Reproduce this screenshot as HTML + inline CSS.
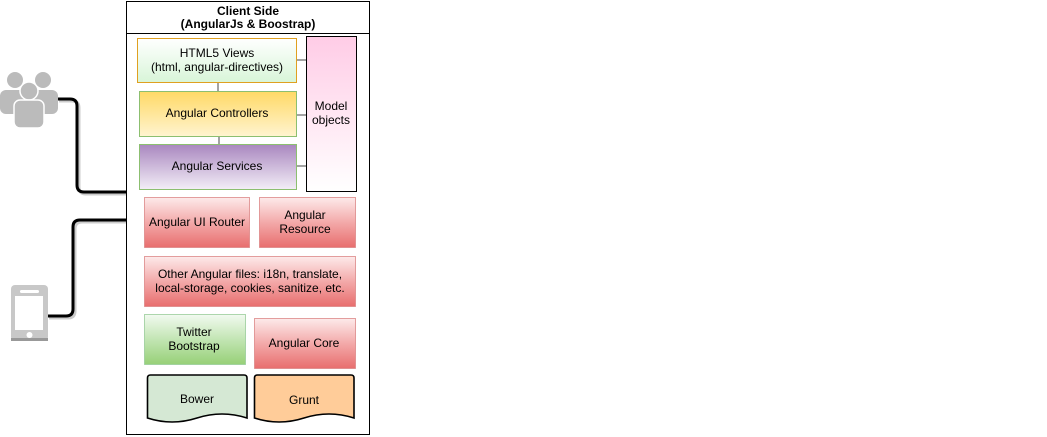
<!DOCTYPE html>
<html><head><meta charset="utf-8"><style>
body{margin:0;background:#fff;width:1047px;height:437px;overflow:hidden}
svg{display:block}
text{font-family:"Liberation Sans",sans-serif;font-size:12px;fill:#000;text-anchor:middle}
</style></head><body>
<svg width="1047" height="437" viewBox="0 0 1047 437">
<defs>
<linearGradient id="gv" x1="0" y1="0" x2="0" y2="1"><stop offset="0" stop-color="#fff"/><stop offset="1" stop-color="#d8f5d8"/></linearGradient>
<linearGradient id="gc" x1="0" y1="0" x2="0" y2="1"><stop offset="0" stop-color="#ffd966"/><stop offset="1" stop-color="#fff4d0"/></linearGradient>
<linearGradient id="gs" x1="0" y1="0" x2="0" y2="1"><stop offset="0" stop-color="#a987bf"/><stop offset="1" stop-color="#f3eef7"/></linearGradient>
<linearGradient id="gm" x1="0" y1="0" x2="0" y2="1"><stop offset="0" stop-color="#ffcce6"/><stop offset="1" stop-color="#fff"/></linearGradient>
<linearGradient id="gr" x1="0" y1="0" x2="0" y2="1"><stop offset="0" stop-color="#fdeaea"/><stop offset="0.5" stop-color="#f3a9a9"/><stop offset="1" stop-color="#e86e6e"/></linearGradient>
<linearGradient id="gg" x1="0" y1="0" x2="0" y2="1"><stop offset="0" stop-color="#f2faf0"/><stop offset="0.5" stop-color="#c2e5b3"/><stop offset="1" stop-color="#97d077"/></linearGradient>
</defs>
<path d="M59,101 H72 Q79,101 79,108 V187 Q79,194 86,194 H128" fill="none" stroke="#ccc" stroke-width="3"/>
<path d="M57,99 H70 Q77,99 77,106 V185 Q77,192 84,192 H127" fill="none" stroke="#000" stroke-width="3"/>
<path d="M49,318 H68 Q75,318 75,311 V229 Q75,222 82,222 H128" fill="none" stroke="#ccc" stroke-width="3"/>
<path d="M47,316 H66 Q73,316 73,309 V227 Q73,220 80,220 H127" fill="none" stroke="#000" stroke-width="3"/>
<g fill="#bbb">
<circle cx="15" cy="80" r="8"/><circle cx="43" cy="80" r="8"/>
<rect x="0" y="90" width="28" height="24" rx="6"/><rect x="30" y="90" width="28" height="24" rx="6"/>
<circle cx="29" cy="91" r="9" stroke="#fff" stroke-width="1.5"/>
<rect x="14" y="100" width="30" height="28" rx="6" stroke="#fff" stroke-width="1.5"/>
</g>
<rect x="11" y="285" width="37" height="56" rx="4" fill="#c8c8c8"/>
<rect x="11" y="338" width="37" height="3" fill="#999"/>
<rect x="15" y="296" width="28" height="34" fill="#fff"/>
<rect x="20" y="290" width="19" height="3" rx="1.5" fill="#fff"/>
<circle cx="29.5" cy="335" r="3" fill="#fff"/>
<rect x="126.5" y="1.5" width="243" height="433" fill="#fff" stroke="#000"/>
<line x1="126" y1="33.5" x2="370" y2="33.5" stroke="#000"/>
<text x="248" y="15" font-weight="bold">Client Side</text>
<text x="248" y="28" font-weight="bold">(AngularJs &amp; Boostrap)</text>
<g stroke="#666" stroke-width="1.2">
<line x1="218" y1="82" x2="218" y2="91"/><line x1="219" y1="134" x2="219" y2="146"/>
<line x1="296" y1="60" x2="307" y2="60"/><line x1="296" y1="115" x2="307" y2="115"/><line x1="296" y1="166" x2="307" y2="166"/>
</g>
<rect x="137.5" y="38.5" width="159" height="44" fill="url(#gv)" stroke="#e0a020"/>
<text x="217" y="57">HTML5 Views</text><text x="217" y="71">(html, angular-directives)</text>
<rect x="139.5" y="91.5" width="157" height="45" fill="url(#gc)" stroke="#8cbf70"/>
<text x="217" y="117">Angular Controllers</text>
<rect x="139.5" y="144.5" width="157" height="45" fill="url(#gs)" stroke="#8cbf70"/>
<text x="217" y="170">Angular Services</text>
<rect x="306.5" y="36.5" width="50" height="155" fill="url(#gm)" stroke="#000"/>
<text x="331" y="110">Model</text><text x="331" y="124">objects</text>
<g stroke="#d88" stroke-width="0.8">
<rect x="144.5" y="197.5" width="105" height="50" fill="url(#gr)"/>
<rect x="259.5" y="197.5" width="96" height="50" fill="url(#gr)"/>
<rect x="144.5" y="256.5" width="211" height="50" fill="url(#gr)"/>
<rect x="254.5" y="318.5" width="101" height="50" fill="url(#gr)"/>
</g>
<rect x="144.5" y="314.5" width="101" height="50" fill="url(#gg)" stroke="#9c9" stroke-width="0.8"/>
<text x="197" y="226">Angular UI Router</text>
<text x="305" y="219">Angular</text><text x="305" y="233">Resource</text>
<text x="250" y="278">Other Angular files: i18n, translate,</text>
<text x="250" y="292">local-storage, cookies, sanitize, etc.</text>
<text x="194" y="336">Twitter</text><text x="194" y="350">Bootstrap</text>
<text x="304" y="347">Angular Core</text>
<path d="M147.5,378 Q147.5,375 150.5,375 H244 Q247,375 247,378 V418 Q222,410 197,418 Q172,426 147.5,418 Z" fill="#d5e8d4" stroke="#000" stroke-width="1.6"/>
<path d="M254.5,378 Q254.5,375 257.5,375 H351 Q354,375 354,378 V418 Q329,410 304,418 Q279,426 254.5,418 Z" fill="#ffcc99" stroke="#000" stroke-width="1.6"/>
<text x="197" y="403">Bower</text>
<text x="304" y="404">Grunt</text>
</svg>
</body></html>
